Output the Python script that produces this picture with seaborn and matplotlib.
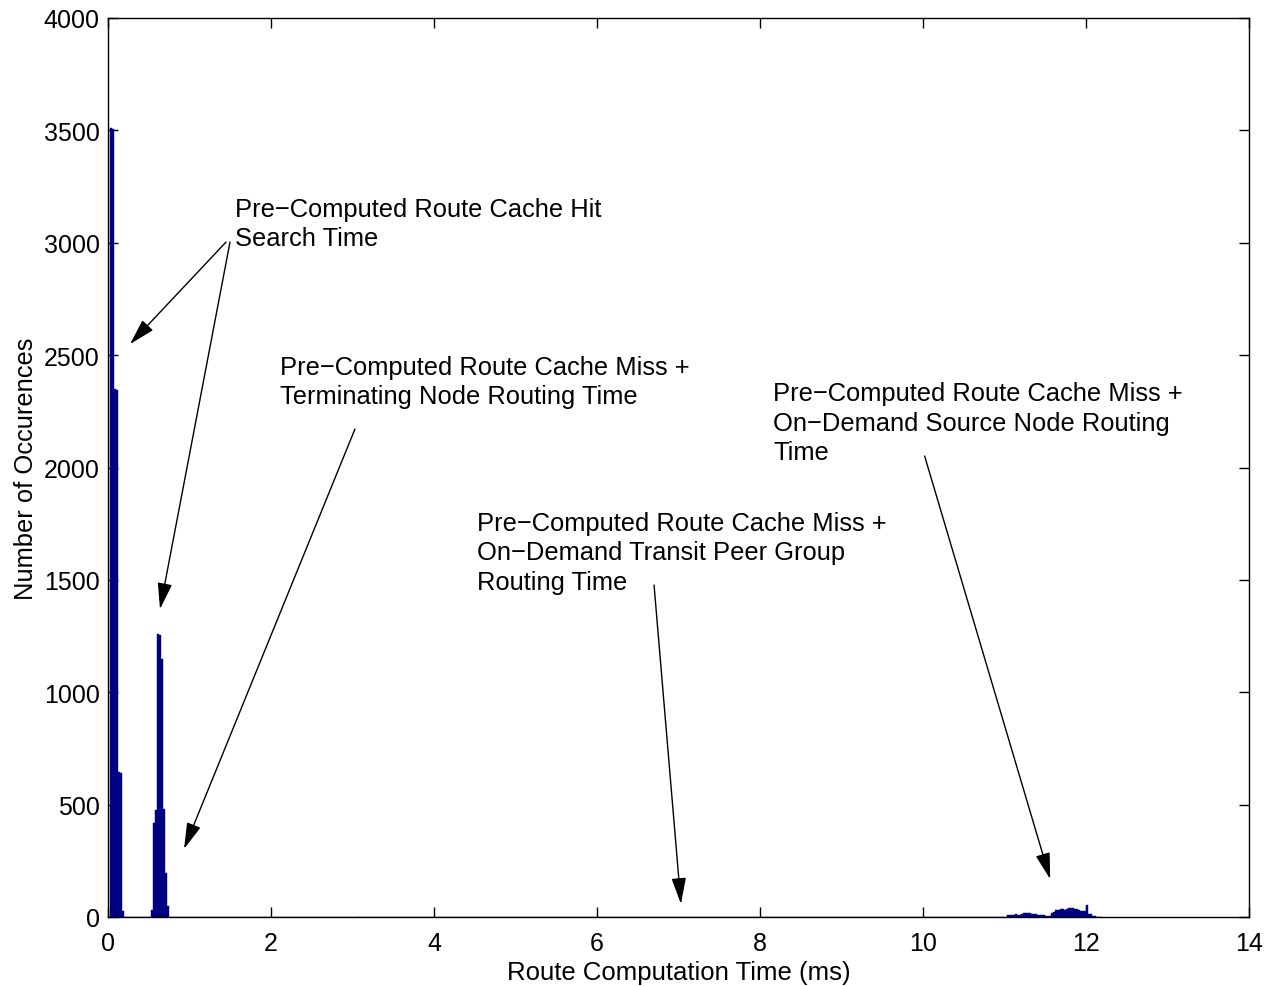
import numpy as np
import pandas as pd
import matplotlib
matplotlib.use("Agg")
import matplotlib.pyplot as plt
import seaborn as sns

# Histogram bins (0.025 ms wide): left edge of each bin and its count
BIN_WIDTH = 0.025

cache_hit_starts = [0.025, 0.050, 0.075, 0.100, 0.125, 0.150, 0.175]
cache_hit_counts = [3510, 3505, 2350, 2345, 645, 640, 25]

terminating_starts = [0.525, 0.550, 0.575, 0.600, 0.625, 0.650, 0.675, 0.700, 0.725]
terminating_counts = [30, 420, 475, 1260, 1255, 1150, 480, 195, 50]

source_starts = [11.025, 11.050, 11.075, 11.100, 11.125, 11.150, 11.175, 11.200,
                 11.225, 11.250, 11.275, 11.300, 11.325, 11.350, 11.375, 11.400,
                 11.425, 11.450, 11.475, 11.500, 11.525, 11.550, 11.575, 11.600,
                 11.625, 11.650, 11.675, 11.700, 11.725, 11.750, 11.775, 11.800,
                 11.825, 11.850, 11.875, 11.900, 11.925, 11.950, 11.975, 12.000,
                 12.025, 12.050, 12.075, 12.100]
source_counts = [10, 9, 11, 10, 12, 10, 11, 12,
                 19, 20, 18, 19, 15, 14, 13, 9,
                 10, 9, 8, 5, 4, 6, 20, 22,
                 30, 32, 34, 35, 33, 34, 40, 41,
                 38, 36, 35, 29, 28, 27, 26, 54,
                 13, 12, 6, 5]

x_ticks = [0, 2, 4, 6, 8, 10, 12, 14]
y_ticks = [0, 500, 1000, 1500, 2000, 2500, 3000, 3500, 4000]

df = pd.DataFrame({
    "start": cache_hit_starts + terminating_starts + source_starts,
    "count": cache_hit_counts + terminating_counts + source_counts,
})
df["center"] = df["start"] + BIN_WIDTH / 2

sns.set_style("ticks")
plt.rcParams["font.family"] = ["Liberation Sans", "DejaVu Sans"]
plt.rcParams["text.color"] = "black"
plt.rcParams["axes.labelcolor"] = "black"
plt.rcParams["xtick.color"] = "black"
plt.rcParams["ytick.color"] = "black"

fig = plt.figure(figsize=(12.68, 9.87), dpi=100)
ax = fig.add_axes([108 / 1268, 69 / 987, (1249 - 108) / 1268, (918 - 19) / 987])

bar_color = "#000080"
sns.histplot(data=df, x="center", weights="count", binwidth=BIN_WIDTH,
             binrange=(0, 12.2), color=bar_color, alpha=1,
             edgecolor=bar_color, linewidth=0.3, ax=ax)

ax.set_xlim(0, 14)
ax.set_ylim(0, 4000)
ax.set_xticks(x_ticks)
ax.set_yticks(y_ticks)
ax.set_xlabel("Route Computation Time (ms)", fontsize=18.5, labelpad=4)
ax.set_ylabel("Number of Occurences", fontsize=18.4, labelpad=4)
ax.tick_params(direction="in", length=7, width=1, labelsize=18,
               top=True, right=True, colors="black")
ax.tick_params(axis="x", pad=10)
ax.tick_params(axis="y", pad=6)
for side in ["top", "right", "bottom", "left"]:
    ax.spines[side].set_visible(True)
    ax.spines[side].set_color("black")
    ax.spines[side].set_linewidth(1)

text_size = 18.4
line_gap = 1.27
arrow_style = dict(arrowstyle="-|>,head_length=0.9,head_width=0.25",
                   color="black", lw=1, mutation_scale=18, shrinkA=0, shrinkB=0)

ax.text(1.558, 3202, "Pre\u2212Computed Route Cache Hit\nSearch Time",
        ha="left", va="top", fontsize=text_size, linespacing=line_gap)
ax.annotate("", xy=(0.27, 2549), xytext=(1.448, 3003), arrowprops=arrow_style)
ax.annotate("", xy=(0.638, 1370), xytext=(1.497, 3003), arrowprops=arrow_style)

ax.text(2.11, 2500, "Pre\u2212Computed Route Cache Miss +\nTerminating Node Routing Time",
        ha="left", va="top", fontsize=text_size, linespacing=line_gap)
ax.annotate("", xy=(0.933, 303), xytext=(3.03, 2171), arrowprops=arrow_style)

ax.text(4.528, 1805,
        "Pre\u2212Computed Route Cache Miss +\nOn\u2212Demand Transit Peer Group\nRouting Time",
        ha="left", va="top", fontsize=text_size, linespacing=line_gap)
ax.annotate("", xy=(7.03, 58), xytext=(6.70, 1477), arrowprops=arrow_style)

ax.text(8.16, 2383,
        "Pre\u2212Computed Route Cache Miss +\nOn\u2212Demand Source Node Routing\nTime",
        ha="left", va="top", fontsize=text_size, linespacing=line_gap)
ax.annotate("", xy=(11.56, 169), xytext=(10.02, 2051), arrowprops=arrow_style)

fig.savefig("out.png", dpi=100, facecolor="white")
